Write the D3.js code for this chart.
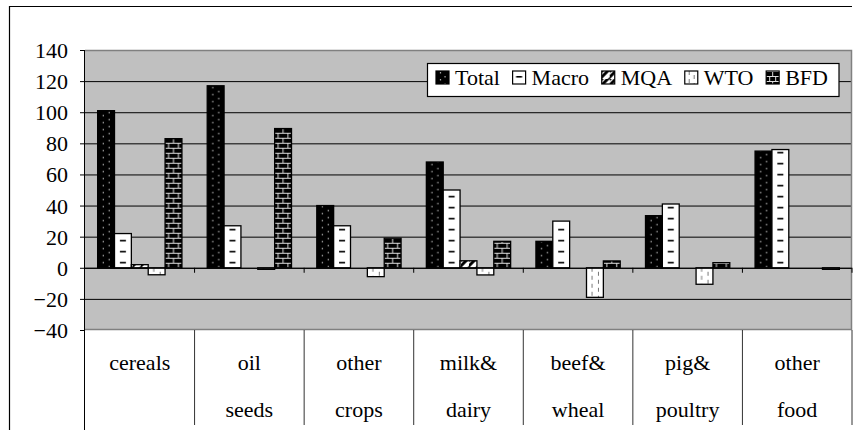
<!DOCTYPE html>
<html>
<head>
<meta charset="utf-8">
<script src="https://cdn.jsdelivr.net/npm/d3@7"></script>
<style>
    body { margin: 0; background: #fff; }
</style>
</head>
<body>
<svg id="plate" width="861" height="430"></svg>
<script>
var categories = ['cereals', 'oil seeds', 'other crops', 'milk& dairy', 'beef& wheal', 'pig& poultry', 'other food'];
var seriesNames = ['Total', 'Macro', 'MQA', 'WTO', 'BFD'];
var totalValues = [101, 117, 40, 68, 17, 33.5, 75];
var macroValues = [22, 27, 27, 50, 30, 41, 76];
var mqaValues = [2, 0, 0, 4.5, 0, 0, 0];
var wtoValues = [-4.5, -1, -5.7, -4.6, -19, -10.6, 0];
var bfdValues = [83, 89.5, 19, 17, 4.4, 3.3, -1];
var yTickValues = [-40, -20, 0, 20, 40, 60, 80, 100, 120, 140];

var seriesValues = [totalValues, macroValues, mqaValues, wtoValues, bfdValues];
var serif = '"Times New Roman", "Liberation Serif", "DejaVu Serif", serif';

var svg = d3.select('#plate')
    .attr('font-family', serif)
    .attr('font-size', 22);
var margin = {top: 50, right: 9, bottom: 100, left: 85};
var width = 861 - margin.left - margin.right;
var height = 430 - margin.top - margin.bottom;

// scales
var x0 = d3.scaleBand().domain(categories).range([0, width]);
var catW = x0.bandwidth();
var barW = catW / 6.5;
var x1 = d3.scaleBand().domain(seriesNames).range([barW * 0.75, catW - barW * 0.75]);
var y = d3.scaleLinear().domain([-40, 140]).range([height, 0]);

var g = svg.append('g')
    .attr('transform', 'translate(' + margin.left + ',' + margin.top + ')');

// patterns, one per series (bars) and one per legend swatch
var defs = svg.append('defs');

function fillPattern(p, name, bx, w) {
    var cx = bx + w / 2;
    var pw = +p.attr('width');
    var ph = +p.attr('height');
    if (name === 'Total') {
        p.append('rect').attr('width', pw).attr('height', ph).attr('fill', '#000');
        p.append('rect').attr('x', bx + w * 0.3).attr('y', 1).attr('width', 1.2).attr('height', 1.5).attr('fill', '#aaa');
        p.append('rect').attr('x', bx + w * 0.65).attr('y', 5).attr('width', 1.2).attr('height', 1.5).attr('fill', '#aaa');
    } else if (name === 'Macro') {
        p.append('rect').attr('width', pw).attr('height', ph).attr('fill', '#fff');
        p.append('rect').attr('x', cx - 3).attr('y', 5).attr('width', 6).attr('height', 1.6).attr('fill', '#000');
    } else if (name === 'MQA') {
        p.append('rect').attr('width', pw).attr('height', ph).attr('fill', '#fff');
        p.append('path').attr('d', 'M-2,8 L8,-2 M6,10 L10,6 M-2,2 L2,-2')
            .attr('stroke', '#000').attr('stroke-width', 3);
    } else if (name === 'WTO') {
        p.append('rect').attr('width', pw).attr('height', ph).attr('fill', '#fff');
        p.append('rect').attr('x', bx + w * 0.3).attr('y', 0).attr('width', 1).attr('height', 4).attr('fill', '#777');
        p.append('rect').attr('x', bx + w * 0.68).attr('y', 4).attr('width', 1).attr('height', 4).attr('fill', '#777');
    } else {
        p.append('rect').attr('width', pw).attr('height', ph).attr('fill', '#000');
        p.append('rect').attr('x', 0).attr('y', 0).attr('width', pw).attr('height', 1).attr('fill', '#ddd');
        p.append('rect').attr('x', 0).attr('y', 5).attr('width', pw).attr('height', 1).attr('fill', '#ddd');
        p.append('rect').attr('x', cx - 0.5).attr('y', 0).attr('width', 1).attr('height', 5).attr('fill', '#ddd');
        p.append('rect').attr('x', bx + 3).attr('y', 5).attr('width', 1).attr('height', 5).attr('fill', '#ddd');
        p.append('rect').attr('x', bx + w - 4).attr('y', 5).attr('width', 1).attr('height', 5).attr('fill', '#ddd');
    }
}

var tileH = {Total: 7, Macro: 11, MQA: 8, WTO: 8, BFD: 10};

seriesNames.forEach(function (name) {
    var p = defs.append('pattern')
        .attr('id', 'pat-' + name)
        .attr('patternUnits', 'userSpaceOnUse')
        .attr('x', 0)
        .attr('y', y(0))
        .attr('width', name === 'MQA' ? 8 : catW)
        .attr('height', tileH[name]);
    fillPattern(p, name, x1(name), x1.bandwidth());
});

// plot area background
g.append('rect')
    .attr('width', width)
    .attr('height', height)
    .attr('fill', '#c0c0c0');

// gridlines
g.append('g')
    .selectAll('line')
    .data(yTickValues.filter((d) => d > -40 && d < 140))
    .join('line')
    .attr('x1', 0)
    .attr('x2', width)
    .attr('y1', (d) => y(d) + 0.5)
    .attr('y2', (d) => y(d) + 0.5)
    .attr('stroke', '#000')
    .attr('stroke-width', 1);

// plot border (top, right, bottom)
g.append('path')
    .attr('d', 'M0,0.5H' + (width - 0.5) + 'V' + height + 'M0,' + (height - 0.5) + 'H' + width)
    .attr('fill', 'none')
    .attr('stroke', '#808080')
    .attr('stroke-width', 1.5);

// bars
var groups = g.append('g')
    .selectAll('g')
    .data(seriesNames)
    .join('g')
    .attr('fill', (d) => 'url(#pat-' + d + ')');

groups.selectAll('rect')
    .data((name, i) => categories.map((c, j) => ({cat: c, name: name, value: seriesValues[i][j]})))
    .join('rect')
    .filter((d) => d.value !== 0)
    .attr('x', (d) => x0(d.cat) + x1(d.name))
    .attr('y', (d) => y(Math.max(0, d.value)))
    .attr('width', x1.bandwidth())
    .attr('height', (d) => Math.abs(y(d.value) - y(0)))
    .attr('stroke', '#000')
    .attr('stroke-width', 1.3);

// category axis at zero
g.append('line')
    .attr('x1', 0).attr('x2', width)
    .attr('y1', y(0) + 0.5).attr('y2', y(0) + 0.5)
    .attr('stroke', '#000');

g.append('g')
    .selectAll('line')
    .data(categories.slice(1).concat(['end']))
    .join('line')
    .attr('x1', (d) => (d === 'end' ? width : x0(d)))
    .attr('x2', (d) => (d === 'end' ? width : x0(d)))
    .attr('y1', y(0))
    .attr('y2', y(0) + 5)
    .attr('stroke', '#000');

// value axis
var yAxis = g.append('g')
    .call(d3.axisLeft(y).tickValues(yTickValues).tickSize(5).tickPadding(12).tickSizeOuter(0));
yAxis.attr('font-family', serif).attr('font-size', 22);
yAxis.select('.domain').remove();
yAxis.selectAll('text').attr('dy', '0.34em');

g.append('line')
    .attr('x1', -0.5).attr('x2', -0.5)
    .attr('y1', 0).attr('y2', 430 - margin.top)
    .attr('stroke', '#000');

// category table below plot
g.append('g')
    .selectAll('line')
    .data(categories.slice(1).concat(['end']))
    .join('line')
    .attr('x1', (d) => (d === 'end' ? width : x0(d)))
    .attr('x2', (d) => (d === 'end' ? width : x0(d)))
    .attr('y1', height)
    .attr('y2', height + 95)
    .attr('stroke', '#333');

var labels = g.append('g')
    .selectAll('text')
    .data(categories)
    .join('text')
    .attr('text-anchor', 'middle')
    .attr('x', (d) => x0(d) + catW / 2)
    .attr('y', height + 40);

labels.selectAll('tspan')
    .data((d) => d.split(' '))
    .join('tspan')
    .attr('x', function () { return d3.select(this.parentNode).attr('x'); })
    .attr('dy', (d, i) => (i === 0 ? 0 : 47))
    .text((d) => d);

// outer chart border
svg.append('path')
    .attr('d', 'M9.5,430V6.5H852')
    .attr('fill', 'none')
    .attr('stroke', '#000')
    .attr('stroke-width', 1.2);

// legend
var legend = svg.append('g').attr('font-size', 22);
var legendBox = legend.append('rect')
    .attr('x', 427.5)
    .attr('y', 63.5)
    .attr('height', 33)
    .attr('fill', '#fff')
    .attr('stroke', '#000')
    .attr('stroke-width', 1.2);

var lx = 436;
seriesNames.forEach(function (name) {
    var sw = 13;
    var p = defs.append('pattern')
        .attr('id', 'leg-' + name)
        .attr('patternUnits', 'userSpaceOnUse')
        .attr('x', lx)
        .attr('y', 71)
        .attr('width', name === 'MQA' ? 8 : 40)
        .attr('height', tileH[name]);
    fillPattern(p, name, 0, sw);
    legend.append('rect')
        .attr('x', lx)
        .attr('y', 71)
        .attr('width', sw)
        .attr('height', sw)
        .attr('fill', 'url(#leg-' + name + ')')
        .attr('stroke', '#000')
        .attr('stroke-width', 1.2);
    var t = legend.append('text')
        .attr('x', lx + 19)
        .attr('y', 84.5)
        .text(name);
    lx += 19 + t.node().getComputedTextLength() + 12.7;
});
legendBox.attr('width', 839 - 427.5);
</script>
</body>
</html>
